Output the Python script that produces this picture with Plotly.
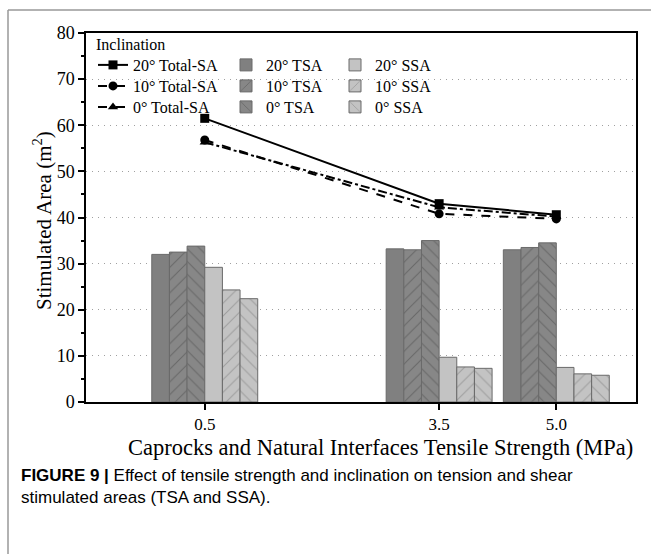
import plotly.graph_objects as go

x_vals = [0.5, 3.5, 5.0]
x_labels = ["0.5", "3.5", "5.0"]

total_20 = [61.5, 43.0, 40.6]
total_10 = [56.8, 40.8, 39.7]
total_0 = [56.3, 42.2, 40.2]

tsa_20 = [32.0, 33.2, 33.0]
tsa_10 = [32.5, 33.0, 33.5]
tsa_0 = [33.8, 35.0, 34.5]

ssa_20 = [29.2, 9.7, 7.5]
ssa_10 = [24.3, 7.6, 6.1]
ssa_0 = [22.4, 7.3, 5.8]

SERIF = "Liberation Serif, Times New Roman, serif"
SANS = "Liberation Sans, Arial, sans-serif"

L = 86; R = 15; T = 33; B = 152
W = 651; H = 554
pw = W - L - R; ph = H - T - B

def px_x(p):
    return (p - L) / pw

def px_y(p):
    return (H - B - p) / ph

fig = go.Figure()

# legend slots: (column text-left px, row top px)
col_x = [133, 266, 375]
row_y = [48, 69, 90]

bar_specs = [
    ("20° TSA", tsa_20, "#808080", "", "#555555", 1, 0),
    ("10° TSA", tsa_10, "#878787", "/", "#4a4a4a", 1, 1),
    ("0° TSA", tsa_0, "#878787", "\\", "#4a4a4a", 1, 2),
    ("20° SSA", ssa_20, "#c3c3c3", "", "#8a8a8a", 2, 0),
    ("10° SSA", ssa_10, "#c3c3c3", "/", "#7a7a7a", 2, 1),
    ("0° SSA", ssa_0, "#c3c3c3", "\\", "#7a7a7a", 2, 2),
]
line_specs = [
    ("20° Total-SA", total_20, "solid", "square", 0, 0),
    ("10° Total-SA", total_10, "dash", "circle", 0, 1),
    ("0° Total-SA", total_0, "dashdot", "triangle-up", 0, 2),
]

leg_font = dict(family=SERIF, size=16, color="black")
legends = {}
idx = 0

def new_legend(c, r):
    global idx
    idx += 1
    key = "legend" if idx == 1 else f"legend{idx}"
    legends[key] = dict(x=px_x(col_x[c] - 40), y=px_y(row_y[r]), xanchor="left", yanchor="top",
                        bgcolor="rgba(0,0,0,0)", borderwidth=0, font=leg_font, itemwidth=30,
                        visible=True)
    return key

for name, vals, col, shape, fg, c, r in bar_specs:
    lg = new_legend(c, r)
    fig.add_trace(go.Bar(
        x=x_vals, y=vals, name=name, legend=lg, showlegend=True,
        marker=dict(color=col, line=dict(color="#6a6a6a", width=1),
                    pattern=dict(shape=shape, fgcolor=fg, bgcolor=col, size=9, solidity=0.12)),
    ))

for name, vals, dash, sym, c, r in line_specs:
    lg = new_legend(c, r)
    fig.add_trace(go.Scatter(
        x=x_vals, y=vals, name=name, mode="lines+markers", legend=lg, showlegend=True,
        line=dict(color="black", width=2, dash=dash),
        marker=dict(symbol=sym, size=9, color="black"),
    ))

fig.update_layout(
    width=W, height=H,
    margin=dict(l=L, r=R, t=T, b=B),
    paper_bgcolor="white", plot_bgcolor="white",
    showlegend=True,
    barmode="group", bargap=0.096, bargroupgap=0,
    font=dict(family=SERIF, color="black"),
    xaxis=dict(range=[-1.02, 6.02], tickvals=x_vals, ticktext=x_labels,
               showgrid=False, zeroline=False, showline=True, linecolor="black", linewidth=1.5,
               mirror=True, ticks="outside", ticklen=6, tickwidth=1.5, tickcolor="black",
               tickfont=dict(family=SERIF, size=17)),
    yaxis=dict(range=[0, 80], dtick=10, showgrid=True, gridcolor="#a0a0a0", griddash="1px,5px", gridwidth=1.2,
               zeroline=False, showline=True, linecolor="black", linewidth=1.5, mirror=True,
               ticks="outside", ticklen=6, tickwidth=1.5, tickcolor="black",
               minor=dict(dtick=5, ticks="outside", ticklen=3, tickcolor="black", showgrid=False),
               tickfont=dict(family=SERIF, size=18)),
    **legends,
)

fig.add_annotation(text="Inclination", xref="paper", yref="paper", x=px_x(94), y=px_y(44),
                   xanchor="left", yanchor="middle", showarrow=False, font=leg_font)

fig.add_annotation(text="Stimulated Area (m<sup>2</sup>)", textangle=-90,
                   xref="paper", yref="paper", x=px_x(42), y=px_y(221), xanchor="center", yanchor="middle",
                   showarrow=False, font=dict(family=SERIF, size=21, color="black"))

fig.add_annotation(text="Caprocks and Natural Interfaces Tensile Strength (MPa)",
                   xref="paper", yref="paper", x=px_x(380), y=px_y(447), xanchor="center", yanchor="middle",
                   showarrow=False, font=dict(family=SERIF, size=22.5, color="black"))

fig.add_annotation(text="<b>FIGURE 9 |</b> Effect of tensile strength and inclination on tension and shear<br>stimulated areas (TSA and SSA).",
                   xref="paper", yref="paper", x=px_x(19), y=px_y(464), xanchor="left", yanchor="top",
                   align="left", showarrow=False, font=dict(family=SANS, size=17, color="black"))

# figure frame lines (left and top)
fig.add_shape(type="line", xref="paper", yref="paper", x0=px_x(8), x1=px_x(8), y0=px_y(H), y1=px_y(10),
              line=dict(color="#999999", width=1.5))
fig.add_shape(type="line", xref="paper", yref="paper", x0=px_x(8), x1=px_x(W), y0=px_y(10), y1=px_y(10),
              line=dict(color="#999999", width=1.5))

fig.write_html("out.html")
